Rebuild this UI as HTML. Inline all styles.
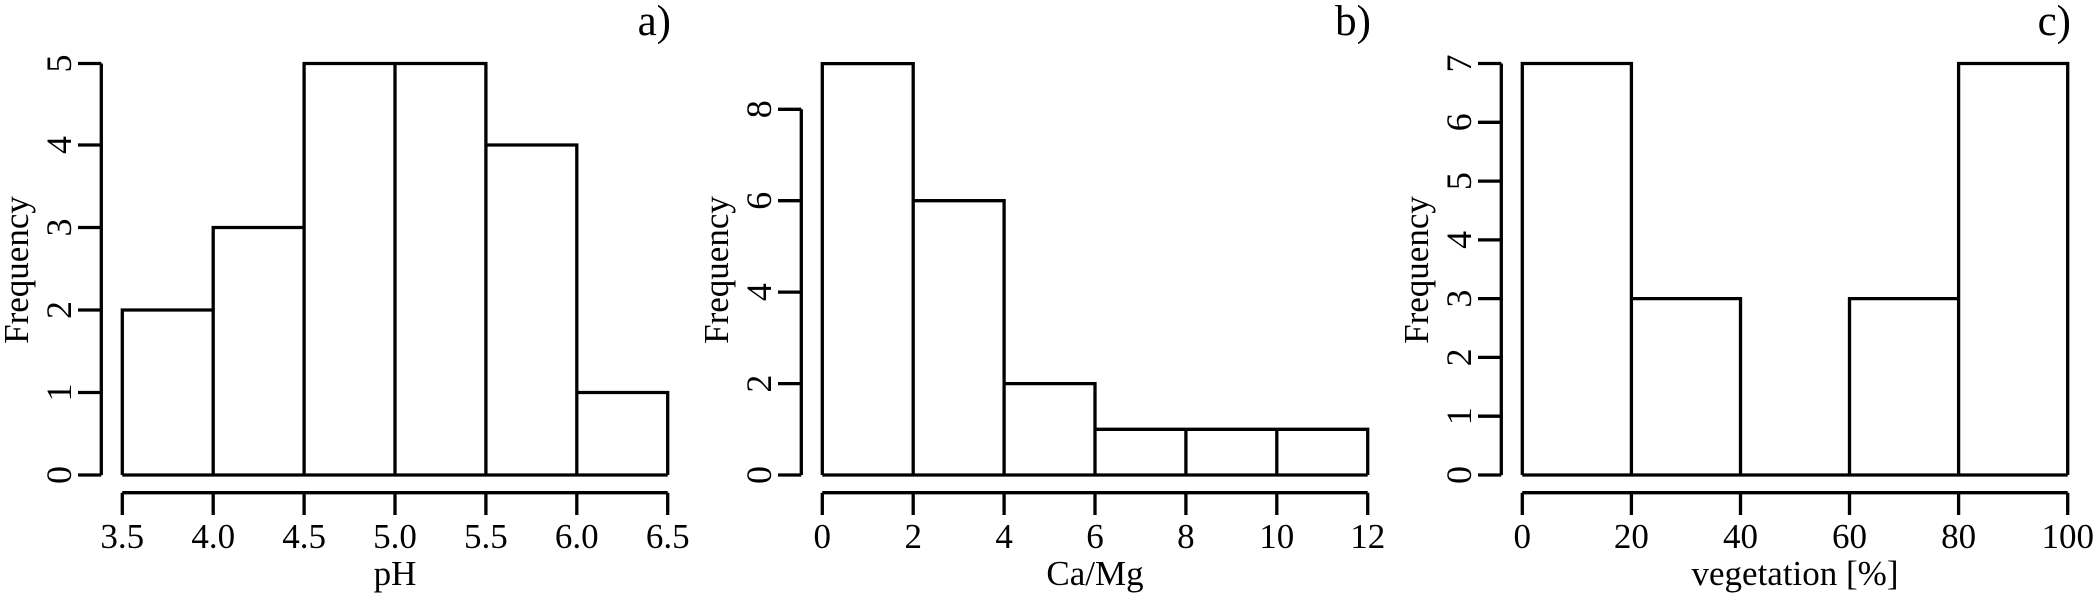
<!DOCTYPE html>
<html><head><meta charset="utf-8"><style>html,body{margin:0;padding:0;background:#fff}svg{display:block}</style></head>
<body>
<svg xmlns="http://www.w3.org/2000/svg" width="2100" height="600" viewBox="0 0 2100 600" font-family="Liberation Serif, serif" font-size="35" fill="#000">
<g stroke="#000" stroke-width="3.3" fill="none" stroke-linecap="butt" stroke-linejoin="miter">
<path d="M101.3,475V63.5 M78,475H101.3 M78,392.5H101.3 M78,310H101.3 M78,227.5H101.3 M78,145H101.3 M78,63.5H101.3"/>
<path d="M122.3,492.7H667.7 M122.3,492.7V515 M213.2,492.7V515 M304.1,492.7V515 M395,492.7V515 M485.9,492.7V515 M576.8,492.7V515 M667.7,492.7V515"/>
<path d="M122.3,475V310H213.2V475 M213.2,475V227.5H304.1V475 M304.1,475V63.5H395V475 M395,475V63.5H485.9V475 M485.9,475V145H576.8V475 M576.8,475V392.5H667.7V475 M122.3,475H667.7"/>
<g transform="translate(700,0)">
<path d="M101.3,475V109.3 M78,475H101.3 M78,383.6H101.3 M78,292.1H101.3 M78,200.7H101.3 M78,109.3H101.3"/>
<path d="M122.3,492.7H667.7 M122.3,492.7V515 M213.2,492.7V515 M304.1,492.7V515 M395,492.7V515 M485.9,492.7V515 M576.8,492.7V515 M667.7,492.7V515"/>
<path d="M122.3,475V63.6H213.2V475 M213.2,475V200.7H304.1V475 M304.1,475V383.6H395V475 M395,475V429.3H485.9V475 M485.9,475V429.3H576.8V475 M576.8,475V429.3H667.7V475 M122.3,475H667.7"/>
</g>
<g transform="translate(1400,0)">
<path d="M101.3,475V63.5 M78,475H101.3 M78,416.2H101.3 M78,357.4H101.3 M78,298.6H101.3 M78,239.9H101.3 M78,181.1H101.3 M78,122.3H101.3 M78,63.5H101.3"/>
<path d="M122.3,492.7H667.7 M122.3,492.7V515 M231.4,492.7V515 M340.5,492.7V515 M449.5,492.7V515 M558.6,492.7V515 M667.7,492.7V515"/>
<path d="M122.3,475V63.5H231.4V475 M231.4,475V298.6H340.5V475 M449.5,475V298.6H558.6V475 M558.6,475V63.5H667.7V475 M122.3,475H667.7"/>
</g>
</g>
<g text-anchor="middle">
<text x="122.3" y="548">3.5</text><text x="213.2" y="548">4.0</text><text x="304.1" y="548">4.5</text><text x="395" y="548">5.0</text><text x="485.9" y="548">5.5</text><text x="576.8" y="548">6.0</text><text x="667.7" y="548">6.5</text>
<text x="395" y="585">pH</text>
<text transform="translate(28,270) rotate(-90)">Frequency</text>
<g font-size="36">
<text transform="translate(71,475) rotate(-90)">0</text><text transform="translate(71,392.5) rotate(-90)">1</text><text transform="translate(71,310) rotate(-90)">2</text><text transform="translate(71,227.5) rotate(-90)">3</text><text transform="translate(71,145) rotate(-90)">4</text><text transform="translate(71,63.5) rotate(-90)">5</text>
</g>
</g>
<text x="671" y="35" text-anchor="end" font-size="43">a)</text>
<g transform="translate(700,0)">
<g text-anchor="middle">
<text x="122.3" y="548">0</text><text x="213.2" y="548">2</text><text x="304.1" y="548">4</text><text x="395" y="548">6</text><text x="485.9" y="548">8</text><text x="576.8" y="548">10</text><text x="667.7" y="548">12</text>
<text x="395" y="585">Ca/Mg</text>
<text transform="translate(28,270) rotate(-90)">Frequency</text>
<g font-size="36">
<text transform="translate(71,475) rotate(-90)">0</text><text transform="translate(71,383.6) rotate(-90)">2</text><text transform="translate(71,292.1) rotate(-90)">4</text><text transform="translate(71,200.7) rotate(-90)">6</text><text transform="translate(71,109.3) rotate(-90)">8</text>
</g>
</g>
<text x="671" y="35" text-anchor="end" font-size="43">b)</text>
</g>
<g transform="translate(1400,0)">
<g text-anchor="middle">
<text x="122.3" y="548">0</text><text x="231.4" y="548">20</text><text x="340.5" y="548">40</text><text x="449.5" y="548">60</text><text x="558.6" y="548">80</text><text x="667.7" y="548">100</text>
<text x="395" y="585">vegetation [%]</text>
<text transform="translate(28,270) rotate(-90)">Frequency</text>
<g font-size="36">
<text transform="translate(71,475) rotate(-90)">0</text><text transform="translate(71,416.2) rotate(-90)">1</text><text transform="translate(71,357.4) rotate(-90)">2</text><text transform="translate(71,298.6) rotate(-90)">3</text><text transform="translate(71,239.9) rotate(-90)">4</text><text transform="translate(71,181.1) rotate(-90)">5</text><text transform="translate(71,122.3) rotate(-90)">6</text><text transform="translate(71,63.5) rotate(-90)">7</text>
</g>
</g>
<text x="671" y="35" text-anchor="end" font-size="43">c)</text>
</g>
</svg>
</body></html>
